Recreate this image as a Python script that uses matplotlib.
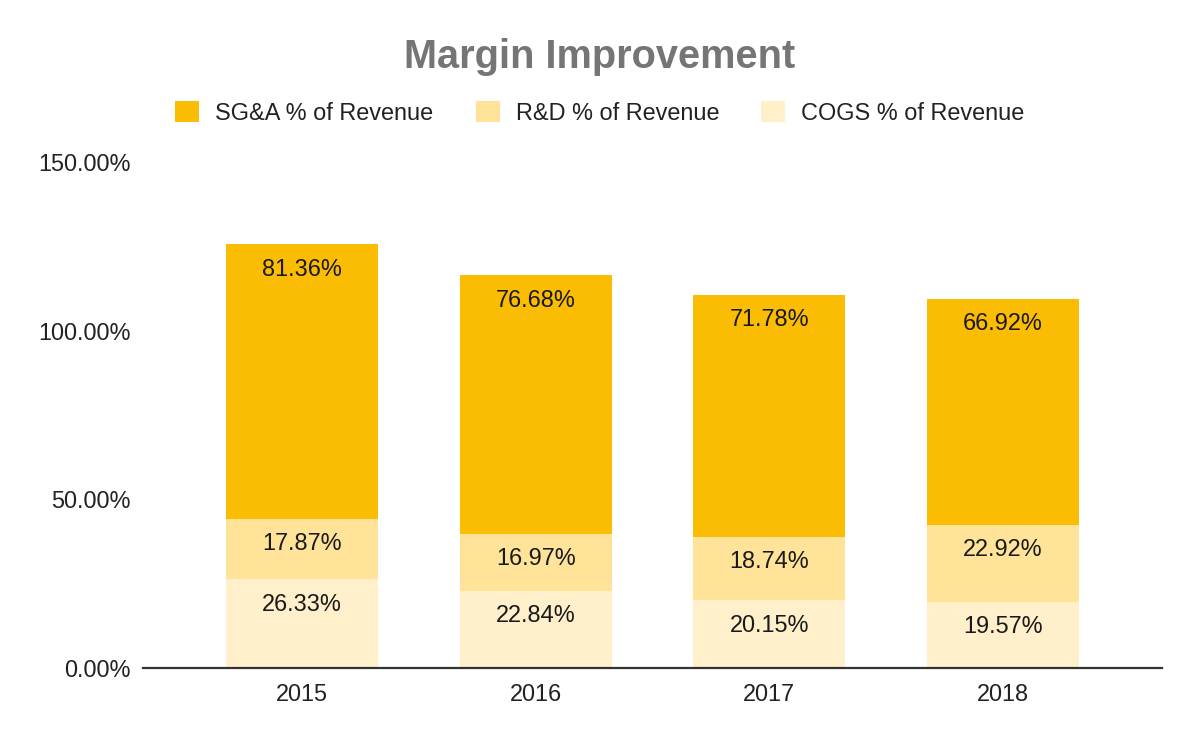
import matplotlib
matplotlib.use("Agg")
import matplotlib.pyplot as plt
from matplotlib.patches import Patch
import numpy as np

years = ["2015", "2016", "2017", "2018"]
cogs = [26.33, 22.84, 20.15, 19.57]
rnd = [17.87, 16.97, 18.74, 22.92]
sga = [81.36, 76.68, 71.78, 66.92]
series_names = ["SG&A % of Revenue", "R&D % of Revenue", "COGS % of Revenue"]
yticks = [0, 50, 100, 150]

c_sga = "#FBBC04"
c_rnd = "#FEE398"
c_cogs = "#FFF0CB"

plt.rcParams['font.family'] = ['Liberation Sans', 'DejaVu Sans']
FS = 16.9

fig = plt.figure(figsize=(12, 7.42), dpi=100)
ax = fig.add_axes([143/1200, (742-668)/742, (1162-143)/1200, (668-162)/742])

x = np.arange(len(years))
w = 0.65
b1 = ax.bar(x, cogs, w, color=c_cogs, label=series_names[2])
b2 = ax.bar(x, rnd, w, bottom=cogs, color=c_rnd, label=series_names[1])
bot3 = np.array(cogs) + np.array(rnd)
b3 = ax.bar(x, sga, w, bottom=bot3, color=c_sga, label=series_names[0])

for bars, vals, bottoms in [(b1, cogs, np.zeros(4)), (b2, rnd, np.array(cogs)), (b3, sga, bot3)]:
    for xi, v, b in zip(x, vals, bottoms):
        ax.annotate(f"{v:.2f}%", xy=(xi, b + v), xytext=(0, -25*0.72),
                    textcoords="offset points", ha="center", va="center",
                    fontsize=FS, color="#1a1a1a")

ax.set_xlim(-0.68, 3.68)
ax.set_ylim(0, 150)
ax.set_yticks(yticks)
ax.set_yticklabels([f"{t:.2f}%" for t in yticks])
ax.set_xticks(x)
ax.set_xticklabels(years)
ax.tick_params(axis='both', length=0, labelsize=FS, colors="#222222")
ax.tick_params(axis='y', pad=8.6)
ax.tick_params(axis='x', pad=10.5)
for s in ["top", "right", "left"]:
    ax.spines[s].set_visible(False)
ax.spines["bottom"].set_color("#333333")
ax.spines["bottom"].set_linewidth(1.6)

fig.text(0.5, 1 - 57/742, "Margin Improvement", ha="center", va="center",
         fontsize=28.6, fontweight="bold", color="#757575")

handles = [Patch(facecolor=c_sga, label=series_names[0]),
           Patch(facecolor=c_rnd, label=series_names[1]),
           Patch(facecolor=c_cogs, label=series_names[2])]
fig.legend(handles=handles, loc="center", bbox_to_anchor=(0.5, 1 - 113/742),
           ncol=3, frameon=False, fontsize=FS, handlelength=1.02, handleheight=1.02,
           handletextpad=0.68, columnspacing=1.8, labelcolor="#222222")

fig.savefig("out.png", dpi=100)
